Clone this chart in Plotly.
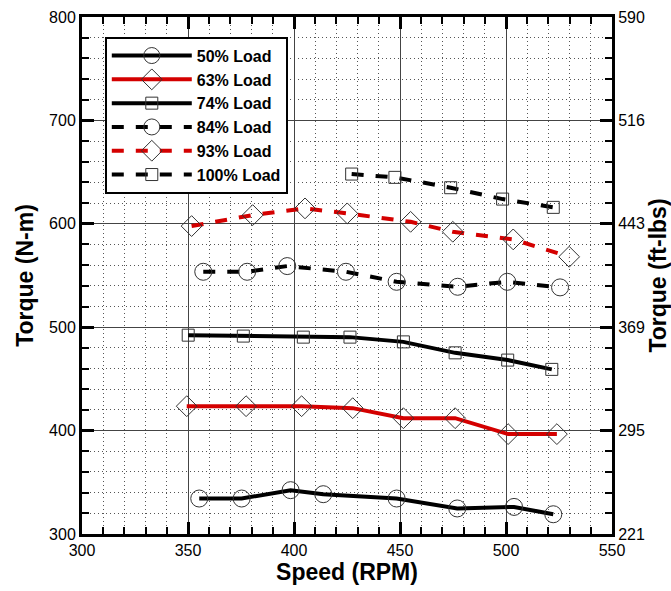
import plotly.graph_objects as go

NM_TO_FTLB = 0.737562

names = ["50% Load", "63% Load", "74% Load", "84% Load", "93% Load", "100% Load"]

speed_50 = [355.3, 375.3, 398.4, 413.8, 448.4, 477.0, 503.8, 522.3]
torque_50 = [334.3, 334.3, 342.4, 338.5, 334.3, 324.7, 326.2, 319.1]

speed_63 = [349.4, 377.4, 403.6, 427.7, 451.6, 476.0, 501.0, 524.0]
torque_63 = [423.6, 423.6, 423.6, 421.7, 412.0, 412.0, 396.6, 396.6]

speed_74 = [350.1, 376.1, 404.4, 426.4, 451.6, 476.0, 500.8, 521.6]
torque_74 = [492.3, 491.4, 490.4, 490.4, 485.8, 475.2, 468.2, 459.2]

speed_84 = [357.2, 377.9, 396.8, 424.5, 448.4, 477.2, 500.6, 525.5]
torque_84 = [553.6, 553.6, 559.1, 553.6, 543.9, 539.1, 543.9, 538.5]

speed_93 = [351.7, 380.5, 405.2, 425.1, 455.0, 474.9, 503.4, 529.8]
torque_93 = [597.8, 608.4, 614.9, 610.1, 601.9, 592.3, 584.9, 568.1]

speed_100 = [427.2, 447.6, 473.9, 498.4, 522.3]
torque_100 = [648.1, 644.9, 634.9, 623.9, 615.9]

series = [
    (speed_50, torque_50, "black", "solid", "circle-open", 17),
    (speed_63, torque_63, "#d40000", "solid", "diamond-open", 16),
    (speed_74, torque_74, "black", "solid", "square-open", 12),
    (speed_84, torque_84, "black", "12px,12px", "circle-open", 17),
    (speed_93, torque_93, "#d40000", "12px,12px", "diamond-open", 16),
    (speed_100, torque_100, "black", "12px,12px", "square-open", 12),
]

fig = go.Figure()
for name, (xs, ys, col, dash, sym, size) in zip(names, series):
    fig.add_trace(go.Scatter(
        x=xs, y=ys, name=name, mode="lines+markers",
        line=dict(color=col, width=4, dash=dash),
        marker=dict(symbol=sym, size=size, color="#333333", line=dict(width=1, color="#333333")),
    ))

# invisible trace to activate right axis
fig.add_trace(go.Scatter(x=[None], y=[None], yaxis="y2", showlegend=False, hoverinfo="skip"))

font_family = "Arial, Liberation Sans, sans-serif"
title_font = dict(family=font_family, size=23, weight="bold", color="black")
minor_grid = dict(showgrid=True, gridcolor="#555555", griddash="1px,3px", gridwidth=1)

fig.update_layout(
    width=671, height=591,
    margin=dict(l=82, r=59, t=17, b=57),
    paper_bgcolor="white", plot_bgcolor="white",
    font=dict(family=font_family, size=16, color="black"),
    showlegend=True,
    legend=dict(
        x=0.043, y=0.962, xanchor="left", yanchor="top",
        bgcolor="white", bordercolor="black", borderwidth=2,
        font=dict(family=font_family, size=16, color="black", weight="bold"),
        itemwidth=80, tracegroupgap=0,
    ),
    xaxis=dict(
        range=[300, 550], tick0=300, dtick=50, automargin=False,
        showline=True, linewidth=3, linecolor="black", mirror="ticks",
        ticks="inside", ticklen=12, tickwidth=3, tickcolor="black",
        showgrid=True, gridcolor="#444444", gridwidth=1,
        zeroline=False,
        minor=dict(dtick=10, ticks="inside", ticklen=7, tickwidth=1.5, tickcolor="black", **minor_grid),
        title=dict(text="Speed (RPM)", font=title_font, standoff=6),
        tickfont=dict(size=16),
    ),
    yaxis=dict(
        range=[300, 800], tick0=300, dtick=100, automargin=False,
        showline=True, linewidth=3, linecolor="black",
        ticks="inside", ticklen=12, tickwidth=3, tickcolor="black",
        showgrid=True, gridcolor="#444444", gridwidth=1,
        zeroline=False,
        minor=dict(dtick=20, ticks="inside", ticklen=7, tickwidth=1.5, tickcolor="black", **minor_grid),
        title=dict(text="Torque (N-m)", font=title_font, standoff=10),
        tickfont=dict(size=16),
    ),
    yaxis2=dict(
        overlaying="y", side="right", automargin=False,
        range=[300 * NM_TO_FTLB, 800 * NM_TO_FTLB],
        tick0=300 * NM_TO_FTLB, dtick=100 * NM_TO_FTLB, tickformat=".0f",
        showline=True, linewidth=3, linecolor="black",
        ticks="inside", ticklen=12, tickwidth=3, tickcolor="black",
        showgrid=False, zeroline=False,
        minor=dict(tick0=300 * NM_TO_FTLB, dtick=20 * NM_TO_FTLB, ticks="inside",
                   ticklen=7, tickwidth=1.5, tickcolor="black", showgrid=False),
        title=dict(text="Torque (ft-lbs)", font=title_font, standoff=2),
        tickfont=dict(size=16),
    ),
)

fig.write_html("out.html")
